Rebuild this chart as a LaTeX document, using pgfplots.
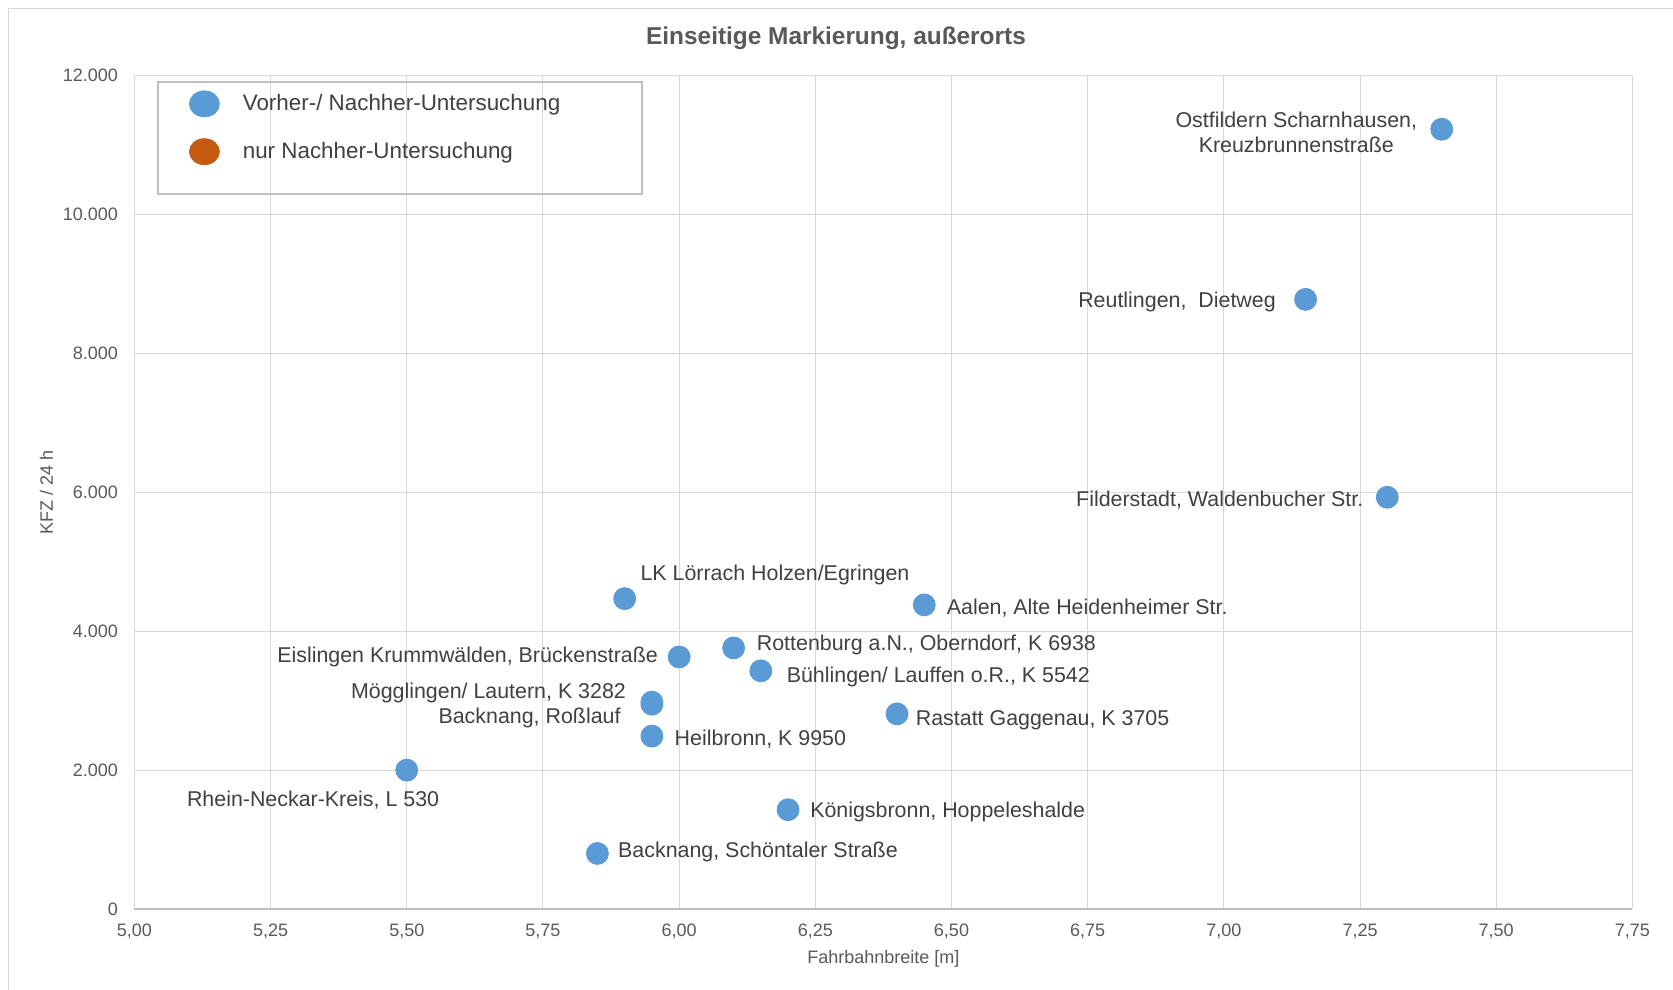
\documentclass[border=0pt]{standalone}
\usepackage{fontspec}
\setmainfont{Liberation Sans}
\usepackage{pgfplots}
\pgfplotsset{compat=1.18}
\usepackage{pgfplotstable}
\definecolor{blueA}{HTML}{5B9BD5}
\definecolor{orangeA}{HTML}{C55A11}
\definecolor{gridc}{HTML}{D9D9D9}
\definecolor{axisc}{HTML}{BFBFBF}
\definecolor{textc}{HTML}{404040}
\definecolor{tickc}{HTML}{595959}
\definecolor{framec}{HTML}{D9D9D9}

\pgfplotstableread{
x y
7.40 11230
7.15 8780
7.30 5930
5.90 4470
6.45 4380
6.10 3760
6.00 3630
6.15 3430
5.95 2980
5.95 2950
5.95 2490
5.50 2000
6.40 2810
6.20 1430
5.85 800
}\datatable

\begin{document}
\begin{tikzpicture}
\useasboundingbox (-67.2pt,-40pt) rectangle (769.3pt,454.5pt);
\draw[color=framec, line width=0.5pt] (-62.7pt,-41pt) -- (-62.7pt,450pt) -- (771pt,450pt);
\begin{axis}[
  at={(0pt,0pt)}, anchor=south west,
  scale only axis, width=749pt, height=416.6pt,
  xmin=5, xmax=7.75, ymin=0, ymax=12000,
  xtick={5,5.25,5.5,5.75,6,6.25,6.5,6.75,7,7.25,7.5,7.75},
  ytick={0,2000,4000,6000,8000,10000,12000},
  grid=major,
  grid style={draw=gridc, line width=0.5pt},
  axis line style={draw=gridc, line width=0.5pt},
  major tick length=0pt,
  scaled x ticks=false, scaled y ticks=false,
  /pgf/number format/assume math mode=true,
  tick label style={font=\fontsize{9}{10}\selectfont, text=tickc},
  xticklabel style={/pgf/number format/fixed, /pgf/number format/fixed zerofill, /pgf/number format/precision=2, /pgf/number format/use comma, anchor=center, inner sep=0pt, yshift=-11pt},
  yticklabel style={/pgf/number format/fixed, /pgf/number format/1000 sep={.}, anchor=east, inner sep=0pt, xshift=-8pt},
  xlabel={Fahrbahnbreite [m]},
  ylabel={KFZ / 24 h},
  label style={font=\fontsize{9}{10}\selectfont, text=tickc},
  xlabel style={at={(axis description cs:0.5,-0.0598)}, anchor=center},
  ylabel style={at={(axis description cs:-0.0587,0.5)}, anchor=center},
  clip=false,
  legend cell align=left,
  legend style={draw=none, fill=none, at={(axis description cs:0,1)}, anchor=north west,
    xshift=27.3pt, yshift=-7.35pt, inner sep=0pt, outer sep=0pt,
    row sep=10.5pt, column sep=11.5pt,
    font=\fontsize{11.2}{13}\selectfont, text=textc, nodes={inner sep=0pt}},
]
\addlegendimage{legend image code/.code={\fill[blueA] (7.5pt,0pt) ellipse [x radius=7.5pt, y radius=6.5pt];}}
\addlegendentry{Vorher-/ Nachher-Untersuchung}
\addlegendimage{legend image code/.code={\fill[orangeA] (7.5pt,0pt) ellipse [x radius=7.5pt, y radius=6.5pt];}}
\addlegendentry{nur Nachher-Untersuchung}

\draw[color=axisc, line width=0.8pt] (rel axis cs:0,0) -- (rel axis cs:1,0);

\addplot[only marks, mark=*, mark size=5.5pt, color=blueA, forget plot] table {\datatable};

\begin{scope}[every node/.style={font=\fontsize{10.7}{12.8}\selectfont, text=textc, inner sep=0pt, yshift=-1pt}]
\node[align=center, anchor=center] at (axis cs:7.133,11216) {Ostfildern Scharnhausen,\\Kreuzbrunnenstraße};
\node[anchor=east] at (axis cs:7.096,8773) {Reutlingen,\ \ Dietweg};
\node[anchor=east] at (axis cs:7.2566,5915) {Filderstadt, Waldenbucher Str.};
\node[anchor=west] at (axis cs:5.9285,4840) {LK Lörrach Holzen/Egringen};
\node[anchor=west] at (axis cs:6.4907,4364) {Aalen, Alte Heidenheimer Str.};
\node[anchor=west] at (axis cs:6.142,3826) {Rottenburg a.N., Oberndorf, K 6938};
\node[anchor=east] at (axis cs:5.9618,3657) {Eislingen Krummwälden, Brückenstraße};
\node[anchor=west] at (axis cs:6.1969,3365) {Bühlingen/ Lauffen o.R., K 5542};
\node[anchor=east] at (axis cs:5.903,3134) {Mögglingen/ Lautern, K 3282};
\node[anchor=east] at (axis cs:5.8932,2781) {Backnang, Roßlauf};
\node[anchor=west] at (axis cs:5.9912,2474) {Heilbronn, K 9950};
\node[anchor=west] at (axis cs:6.4339,2750) {Rastatt Gaggenau, K 3705};
\node[anchor=east] at (axis cs:5.5602,1598) {Rhein-Neckar-Kreis, L 530};
\node[anchor=west] at (axis cs:6.24,1429) {Königsbronn, Hoppeleshalde};
\node[anchor=west] at (axis cs:5.8874,845) {Backnang, Schöntaler Straße};
\end{scope}
\end{axis}
\draw[color=axisc, line width=0.6pt] (11.8pt,357.5pt) rectangle (253.8pt,413.5pt);
\node[font=\bfseries\fontsize{12.2}{14}\selectfont, text=tickc] at (350.8pt,435.5pt) {Einseitige Markierung, außerorts};
\end{tikzpicture}
\end{document}
